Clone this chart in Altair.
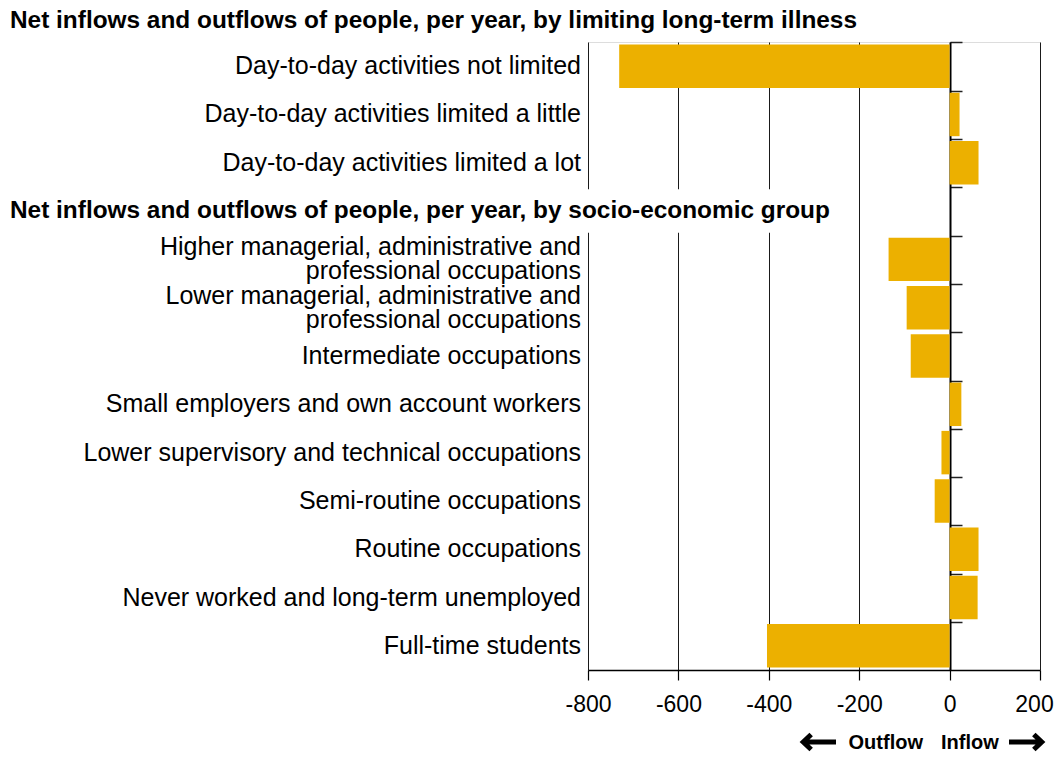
import altair as alt
import pandas as pd

HEADER_KEY = "__header__"

rows = [
    "Day-to-day activities not limited",
    "Day-to-day activities limited a little",
    "Day-to-day activities limited a lot",
    HEADER_KEY,
    "Higher managerial, administrative and|professional occupations",
    "Lower managerial, administrative and|professional occupations",
    "Intermediate occupations",
    "Small employers and own account workers",
    "Lower supervisory and technical occupations",
    "Semi-routine occupations",
    "Routine occupations",
    "Never worked and long-term unemployed",
    "Full-time students",
]
values = [-731, 22, 64, None, -135, -95, -86, 26, -18, -33, 64, 62, -404]

title_1 = "Net inflows and outflows of people, per year, by limiting long-term illness"
title_2 = "Net inflows and outflows of people, per year, by socio-economic group"
x_ticks = [-800, -600, -400, -200, 0, 200]
mask_extent = [-800, -250]
legend_words = ["Outflow", "Inflow"]

FONT = "Liberation Sans"
BAR = "#ECB000"
LABEL_SIZE = 25
HEAD_SIZE = 24.4

df = pd.DataFrame({"row": rows, "value": values})
bars_df = df[df["row"] != HEADER_KEY]
hdr_df = pd.DataFrame({"row": [HEADER_KEY], "x0": [mask_extent[0]], "x1": [mask_extent[1]], "text": [title_2]})

yscale = alt.Scale(domain=rows, paddingInner=0.1, paddingOuter=0.05)
xscale = alt.Scale(domain=[x_ticks[0], x_ticks[-1]], nice=False)

x_axis = alt.Axis(
    values=x_ticks, grid=True, gridColor="#1a1a1a", gridWidth=1,
    domainColor="#000000", domainWidth=1.5, tickColor="#000000", tickWidth=1.2,
    tickSize=10, labelFontSize=23, labelColor="#000000", labelFont=FONT,
    labelPadding=13, title=None, labelExpr="'' + datum.value",
    labelFlush=False, labelOverlap=False,
    labelOffset={"condition": {"test": "datum.value == 200", "value": -6}, "value": 0},
)

bars = alt.Chart(bars_df).mark_bar(color=BAR).encode(
    x=alt.X("value:Q", scale=xscale, axis=x_axis),
    y=alt.Y("row:N", scale=yscale, axis=None),
)

mask = alt.Chart(hdr_df).mark_rect(color="white").encode(
    x=alt.X("x0:Q", scale=xscale, axis=x_axis),
    x2="x1:Q",
    y=alt.Y("row:N", scale=yscale, axis=None),
)

hdr_text = alt.Chart(hdr_df).mark_text(
    align="left", baseline="middle", font=FONT, fontSize=HEAD_SIZE, fontWeight="bold", color="#000000"
).encode(
    x=alt.value(-578),
    y=alt.Y("row:N", scale=yscale, axis=None),
    text="text:N",
)

labels_single = alt.Chart(bars_df).transform_filter(
    "indexof(datum.row, '|') < 0"
).mark_text(
    align="right", baseline="middle", font=FONT, fontSize=LABEL_SIZE, color="#000000",
).encode(
    x=alt.value(-7),
    y=alt.Y("row:N", scale=yscale, axis=None),
    text="row:N",
)

labels_multi = alt.Chart(bars_df).transform_filter(
    "indexof(datum.row, '|') >= 0"
).mark_text(
    align="right", baseline="middle", font=FONT, fontSize=LABEL_SIZE, color="#000000",
    lineBreak="|", lineHeight=24, dy=-12,
).encode(
    x=alt.value(-7),
    y=alt.Y("row:N", scale=yscale, axis=None),
    text="row:N",
)

zero_axis = alt.Chart(bars_df).mark_point(opacity=0).encode(
    x=alt.X("value:Q", scale=xscale, axis=x_axis),
    y=alt.Y("row:N", scale=yscale, axis=alt.Axis(
        orient="right", offset=-90, labels=False, title=None, grid=False,
        domainColor="#000000", domainWidth=2, tickColor="#222222", tickWidth=1.5,
        tickSize=12, bandPosition=0, tickOffset=-2,
    )),
)

title_top = alt.Chart(pd.DataFrame({"t": [title_1]})).mark_text(
    align="left", baseline="middle", font=FONT, fontSize=HEAD_SIZE, fontWeight="bold", color="#000000"
).encode(x=alt.value(-578), y=alt.value(-21), text="t:N")

out_txt = alt.Chart(pd.DataFrame({"t": [legend_words[0]]})).mark_text(
    align="right", baseline="alphabetic", font=FONT, fontSize=20, fontWeight="bold", color="#000000"
).encode(x=alt.value(335), y=alt.value(707), text="t:N")
in_txt = alt.Chart(pd.DataFrame({"t": [legend_words[1]]})).mark_text(
    align="left", baseline="alphabetic", font=FONT, fontSize=20, fontWeight="bold", color="#000000"
).encode(x=alt.value(353), y=alt.value(707), text="t:N")

LEFT_ARROW = "M1,0 L-0.8,0 M-0.38,-0.42 L-0.82,0 L-0.38,0.42"
RIGHT_ARROW = "M-1,0 L0.8,0 M0.38,-0.42 L0.82,0 L0.38,0.42"
arrow_l = alt.Chart(pd.DataFrame({"a": [0]})).mark_point(
    shape=LEFT_ARROW, size=1296, filled=False, stroke="#000000", strokeWidth=5,
    strokeJoin="miter", strokeCap="butt", opacity=1,
).encode(x=alt.value(230), y=alt.value(700))
arrow_r = alt.Chart(pd.DataFrame({"a": [0]})).mark_point(
    shape=RIGHT_ARROW, size=1296, filled=False, stroke="#000000", strokeWidth=5,
    strokeJoin="miter", strokeCap="butt", opacity=1,
).encode(x=alt.value(439), y=alt.value(700))

chart = alt.layer(
    bars, mask, zero_axis, hdr_text, labels_single, labels_multi, title_top,
    out_txt, in_txt, arrow_l, arrow_r
).resolve_axis(y="independent").properties(
    width=452, height=628,
    autosize=alt.AutoSizeParams(type="none"),
    padding={"left": 580, "top": 34, "right": 14, "bottom": 83},
).configure_view(stroke=None).configure(background="white")

chart.save("out.html", embed_options={"renderer": "svg", "actions": False})
